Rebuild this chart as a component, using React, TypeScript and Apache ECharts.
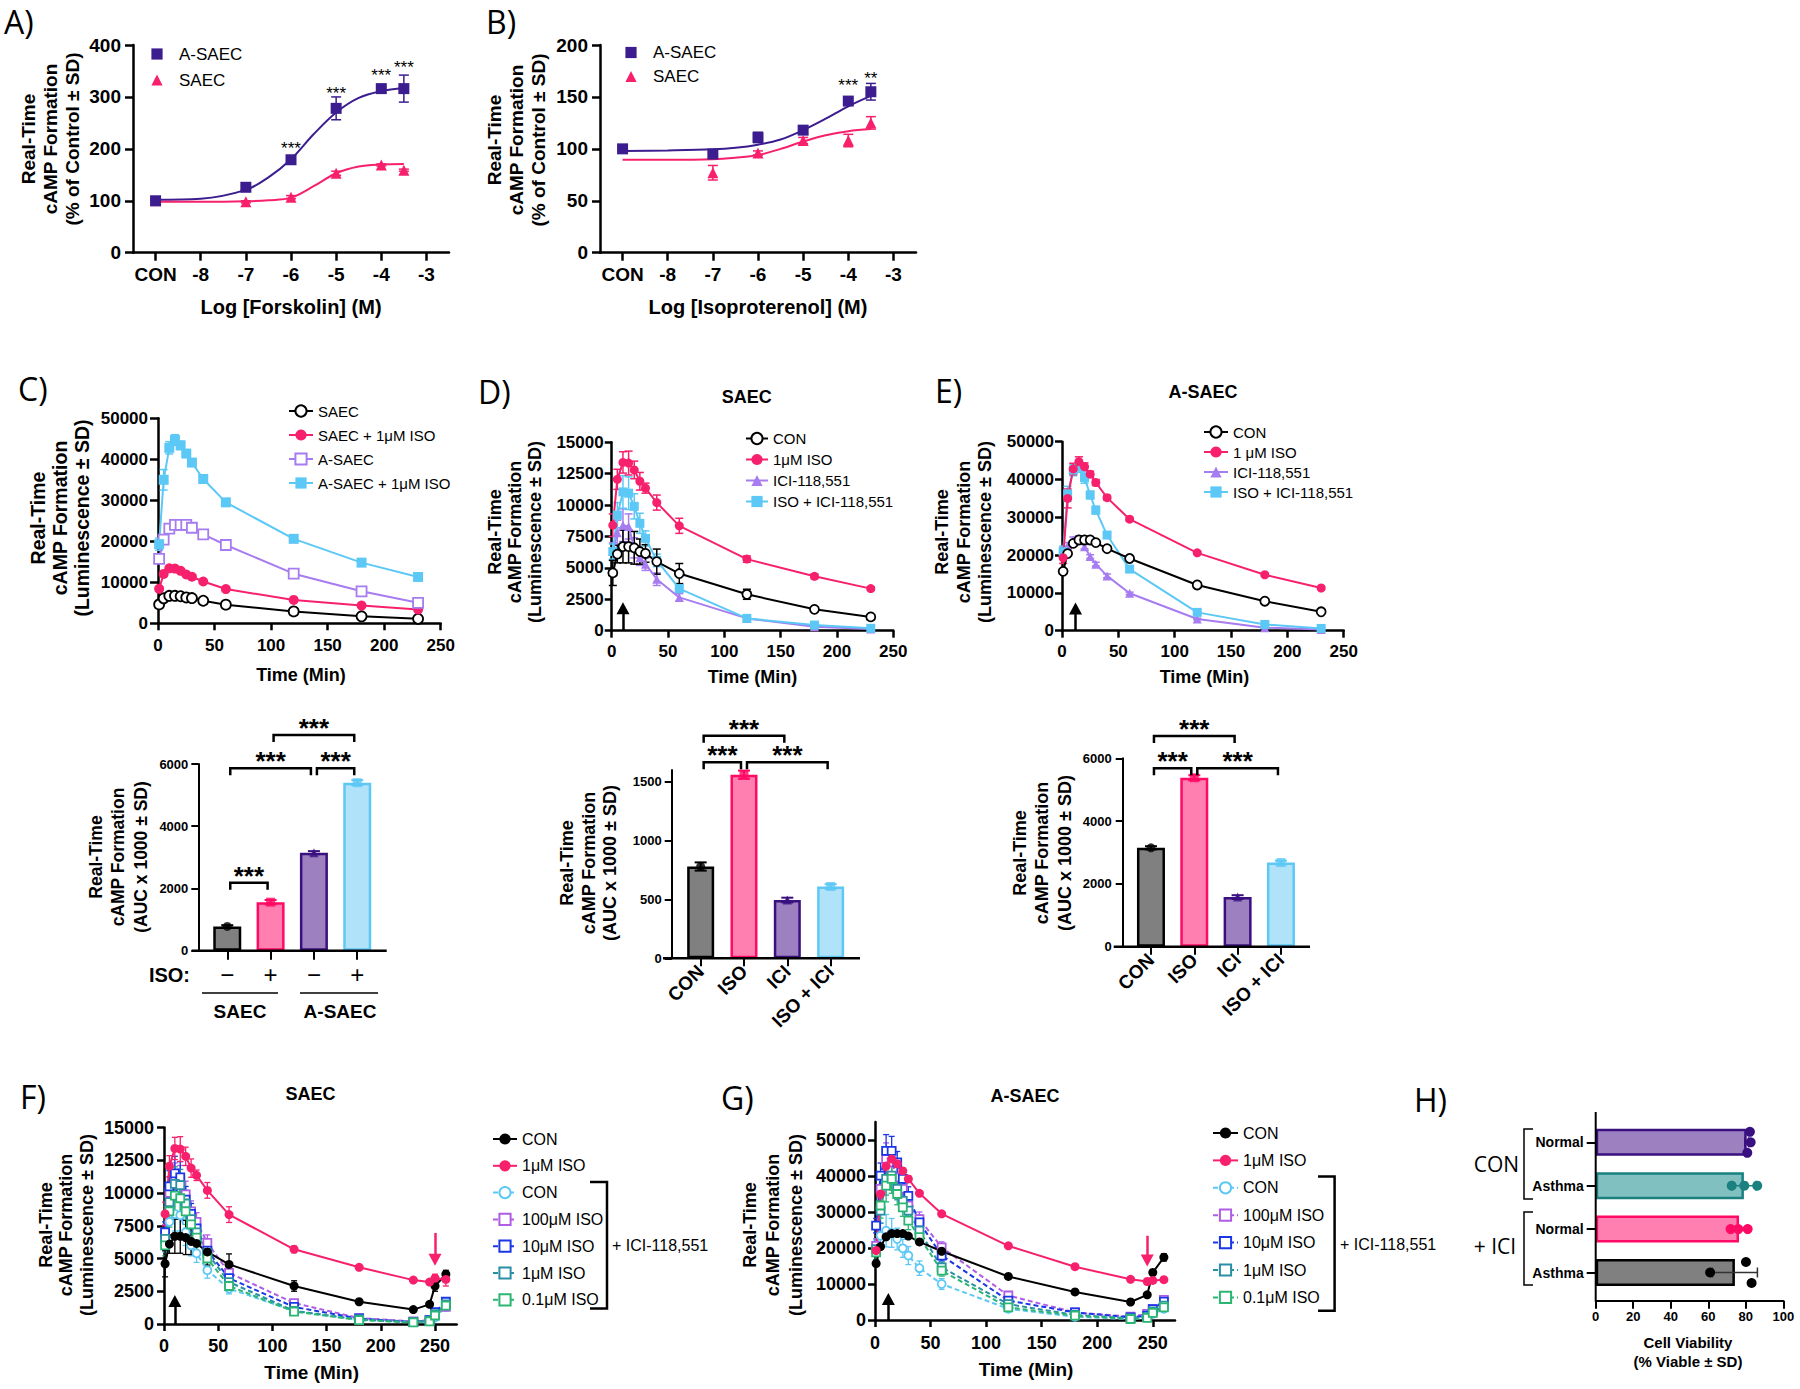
import React, { useEffect, useRef } from 'react';
import * as echarts from 'echarts';

const ARIAL = "'Liberation Sans', Arial, Helvetica, sans-serif";
const CAL = "'Open Sans', 'Noto Sans', sans-serif";

// ---------------- Panel A : Forskolin ----------------
const LOG_DOSE = [-9, -7, -6, -5, -4, -3.5];
const LOG_TICKS = [-9, -8, -7, -6, -5, -4, -3];
const FSK_ASAEC = [100, 126, 179, 278, 316, 316];
const FSK_ASAEC_SD = [2, 4, 5, 22, 3, 26];
const FSK_SAEC = [100, 98, 107, 153, 169, 159];
const FSK_SAEC_SD = [1, 2, 3, 4, 2, 2];
const FIT_DOSE = [-9, -8, -7, -6.5, -6, -5.5, -5, -4.5, -4, -3.5];
const FSK_ASAEC_FIT = [102, 104, 121, 145, 180, 228, 270, 298, 311, 317];
const FSK_SAEC_FIT = [98, 98, 99, 101, 106, 128, 153, 166, 170, 171];
const FSK_SIG: [number, number, string][] = [[-6, 207, '***'], [-5, 313, '***'], [-4, 347, '***'], [-3.5, 363, '***']];

// ---------------- Panel B : Isoproterenol ----------------
const ISO_ASAEC = [100, 95, 111, 118, 146, 155];
const ISO_ASAEC_SD = [1, 2, 5, 3, 3, 8];
const ISO_SAEC: (number | null)[] = [null, 77, 96, 108, 108, 125];
const ISO_SAEC_SD = [0, 7, 2, 3, 6, 6];
const ISO_ASAEC_FIT = [98, 98.5, 99.5, 101, 104, 109, 118, 129, 141, 151];
const ISO_SAEC_FIT = [89.5, 89.5, 90, 91.5, 94, 100, 107, 113, 117, 119];
const ISO_SIG: [number, number, string][] = [[-4, 164, '***'], [-3.5, 171, '**']];

// ---------------- Panels C, D, E : time courses ----------------
const TIME = [1, 5, 10, 15, 20, 25, 30, 40, 60, 120, 180, 230];
const SAEC_CON = [4600, 6100, 6700, 6700, 6600, 6300, 6150, 5500, 4550, 2900, 1700, 1100];
const SAEC_CON_SD = [1000, 700, 1300, 1300, 1300, 1000, 700, 1000, 800, 400, 150, 100];
const SAEC_ISO = [8400, 12050, 13400, 13350, 12800, 11900, 11350, 10200, 8350, 5700, 4330, 3350];
const SAEC_ISO_SD = [900, 800, 850, 950, 700, 700, 400, 600, 600, 250, 200, 150];
const SAEC_ICI = [6300, 7800, 8400, 8300, 6600, 5800, 5300, 4100, 2650, 980, 320, 130];
const SAEC_ICI_SD = [700, 1000, 1300, 1000, 800, 600, 500, 500, 300, 150, 80, 50];
const SAEC_ISO_ICI = [6300, 9200, 11050, 10950, 9900, 8550, 7350, 5600, 3350, 980, 450, 190];
const SAEC_ISO_ICI_SD = [600, 1000, 1300, 1300, 1000, 800, 600, 500, 300, 150, 80, 50];
const ASAEC_CON = [15700, 20400, 23100, 24000, 24000, 24000, 23300, 21700, 19100, 12100, 7800, 5000];
const ASAEC_CON_SD = [500, 500, 500, 500, 400, 400, 400, 400, 300, 300, 300, 300];
const ASAEC_ISO = [19300, 35000, 42800, 44700, 43400, 41400, 39200, 35200, 29500, 20600, 14800, 11300];
const ASAEC_ISO_SD = [1500, 2500, 1500, 1300, 1000, 800, 800, 600, 500, 400, 400, 400];
const ASAEC_ICI = [20500, 22500, 24000, 24300, 22200, 19600, 17600, 14500, 9900, 3100, 800, 350];
const ASAEC_ICI_SD = [1500, 800, 800, 800, 600, 500, 500, 500, 300, 200, 100, 100];
const ASAEC_ISO_ICI = [20900, 36200, 42500, 43400, 40500, 35900, 31900, 25300, 16300, 4850, 1650, 600];
const ASAEC_ISO_ICI_SD = [1500, 2000, 1500, 1500, 1500, 1000, 1000, 800, 700, 300, 200, 100];
const D_ARROW = [10, 0, 1780];
const E_ARROW = [12, 0, 5900];

// ---------------- AUC bars ----------------
const C_BAR_CATS = ['\u2212', '+', '\u2212', '+'];
const C_BAR = [780, 1560, 3150, 5400];
const C_BAR_SD = [40, 70, 50, 80];
const C_SIG = [[0, 1, 2180], [0, 2, 5860], [2, 3, 5860], [1, 3, 6930]];
const DE_BAR_CATS = ['CON', 'ISO', 'ICI', 'ISO + ICI'];
const D_BAR = [780, 1560, 495, 610];
const D_BAR_SD = [35, 35, 20, 20];
const D_SIG = [[0, 1, 1665], [1, 3, 1665], [0, 2, 1891]];
const E_BAR = [3150, 5380, 1580, 2680];
const E_BAR_SD = [50, 80, 60, 60];
const E_SIG = [[0, 1, 5682], [1, 3, 5682], [0, 2, 6710]];

// ---------------- Panels F, G ----------------
const TIME_LONG = [1, 5, 10, 15, 20, 25, 30, 40, 60, 120, 180, 230, 245, 250, 260];
const TIME_LONG_TICKS = [0, 50, 100, 150, 200, 250];
const F_CON = [4600, 6100, 6700, 6700, 6600, 6300, 6150, 5500, 4550, 2900, 1700, 1100, 1500, 2900, 3800];
const F_CON_SD = [1000, 700, 1300, 1300, 1300, 1000, 700, 1000, 800, 400, 150, 100, 200, 400, 300];
const F_ISO = [8400, 12050, 13400, 13350, 12800, 11900, 11350, 10200, 8350, 5700, 4330, 3350, 3200, 3500, 3400];
const F_ISO_SD = [900, 800, 850, 950, 700, 700, 400, 600, 600, 250, 200, 150, 200, 300, 500];
const F_ICI_CON = [6300, 7800, 8400, 8300, 7000, 6000, 5400, 4100, 2700, 1000, 330, 130, 200, 500, 1300];
const F_ICI_100 = [6800, 10000, 11000, 10900, 9900, 8600, 7800, 6200, 3900, 1600, 450, 200, 300, 800, 1300];
const F_ICI_10 = [7000, 10500, 11500, 11200, 9500, 8400, 7300, 5600, 3500, 1300, 420, 150, 300, 900, 1700];
const F_ICI_1 = [6500, 9300, 10700, 10600, 9200, 8000, 7000, 5400, 3200, 1000, 350, 140, 250, 750, 1500];
const F_ICI_01 = [6000, 8600, 9800, 9600, 8600, 7600, 6600, 5000, 2900, 950, 300, 120, 200, 650, 1400];
const F_ICI_SD = [800, 1200, 1300, 1200, 1000, 800, 700, 600, 400, 200, 100, 50, 80, 150, 200];
const F_ARROW_UP = [10, 0, 1760];
const F_ARROW_DOWN = [250, 6950, 4900];

const G_CON = [15700, 20400, 23100, 24000, 24000, 24000, 23300, 21700, 19100, 12100, 7800, 5000, 7000, 13200, 17400];
const G_CON_SD = [800, 700, 600, 600, 500, 500, 500, 500, 400, 300, 300, 300, 400, 600, 1000];
const G_ISO = [19300, 35000, 42800, 44700, 43400, 41400, 39200, 35200, 29500, 20600, 14800, 11300, 10700, 11000, 11200];
const G_ISO_SD = [1500, 2500, 1500, 1300, 1000, 800, 800, 600, 500, 400, 400, 400, 400, 400, 500];
const G_ICI_CON = [20200, 23400, 24800, 24200, 22500, 19900, 17900, 14400, 10000, 3100, 900, 280, 650, 1700, 3100];
const G_ICI_100 = [20600, 36400, 44700, 43800, 39600, 36400, 31800, 28000, 20200, 6800, 2100, 900, 1700, 3000, 5600];
const G_ICI_10 = [26200, 40100, 47000, 47000, 43800, 39200, 34500, 27100, 17900, 5400, 2100, 740, 1200, 3000, 5100];
const G_ICI_1 = [19700, 30400, 39200, 40100, 36400, 33100, 30400, 24800, 14600, 4400, 1400, 460, 800, 2400, 4000];
const G_ICI_01 = [18800, 31800, 37300, 39200, 35000, 31300, 27600, 23000, 13700, 3500, 1200, 280, 600, 2000, 3500];
const G_ICI_SD = [2000, 3500, 4500, 4000, 3000, 2500, 2500, 2000, 1500, 800, 400, 200, 300, 500, 800];
const G_Y_TICKS = [0, 10000, 20000, 30000, 40000, 50000];
const G_ARROW_UP = [12, 0, 5800];
const G_ARROW_DOWN = [245, 23400, 16500];

// ---------------- Panel H ----------------
const H_CATS = ['Normal', 'Asthma', 'Normal', 'Asthma'];
const H_BAR = [80.5, 79, 76.4, 74.2];
const H_SD = [1, 6.5, 4.5, 12];
const H_DOTS = [[82.2, 82.6, 80.8], [72.5, 79.2, 86.1], [71.9, 76, 81], [80.1, 61, 83.1]];

// ---------------- colours ----------------
const BLACK = '#000000';
const PINK = '#f7206c';
const DPURPLE = '#3b1d8f';
const LPURPLE = '#a77cf0';
const LBLUE = '#5cc8f5';
const C100 = '#b05de6';
const C10 = '#1a36e6';
const C1 = '#2a8fa6';
const C01 = '#2bb673';
const BAR_FILL = ['#808080', '#ff80b0', '#9d80bf', '#b0e2fa'];
const BAR_EDGE = ['#000000', '#ff0a64', '#3a1080', '#5ec8f5'];
const BAR_SYM = ['circle', 'rect', 'triangle', 'rect'];
const H_FILL = ['#9d80bf', '#80c0c0', '#ff80b0', '#808080'];
const H_EDGE = ['#3a1080', '#1a8080', '#ff0a64', '#000000'];

// ---------------- layout ----------------
const GRIDS = [
  { left: 133, top: 45, width: 316, height: 207.7 },
  { left: 600, top: 45, width: 316, height: 207.7 },
  { left: 158, top: 418.3, width: 282.7, height: 205 },
  { left: 611.7, top: 442.3, width: 281.6, height: 188.4 },
  { left: 1062, top: 441.7, width: 281.7, height: 189 },
  { left: 205.6, top: 764, width: 173.3, height: 186.7 },
  { left: 679, top: 770, width: 173.3, height: 188.3 },
  { left: 1129.3, top: 758.3, width: 173.3, height: 188.4 },
  { left: 164, top: 1127.5, width: 292.7, height: 196.5 },
  { left: 875, top: 1122, width: 300, height: 198 },
  { left: 1595.7, top: 1120.6, width: 187.6, height: 173.6 },
];

const plain = (v: number) => String(v);

function valAxis(gi: number, o: any) {
  const lw = o.lw ?? 2.5;
  return {
    type: 'value', gridIndex: gi, min: o.min, max: o.max, interval: o.interval, offset: o.offset ?? 0,
    axisLine: { show: true, onZero: false, lineStyle: { color: BLACK, width: lw } },
    axisTick: { show: true, length: o.tick ?? 7, lineStyle: { color: BLACK, width: lw }, customValues: o.custom },
    axisLabel: {
      show: true, margin: o.margin ?? 10, fontSize: o.fs, fontWeight: 'bold', color: BLACK, fontFamily: ARIAL,
      formatter: o.fmt ?? plain, customValues: o.custom,
    },
    splitLine: { show: false },
  };
}

function catAxis(gi: number, data: string[], o: any) {
  return {
    type: 'category', gridIndex: gi, data, boundaryGap: true, inverse: !!o.inverse,
    axisLine: { show: false },
    axisTick: { show: true, alignWithLabel: true, length: o.tick ?? 8, lineStyle: { color: BLACK, width: 2 } },
    axisLabel: {
      interval: 0, margin: o.margin ?? 10, fontSize: o.fs, fontWeight: o.fw ?? 'bold', color: BLACK,
      fontFamily: ARIAL, rotate: o.rotate ?? 0,
    },
    splitLine: { show: false },
  };
}

function errRender(cols: string[], cap: number, lw: number) {
  return (p: any, api: any) => {
    const x = api.value(0);
    const lo = api.coord([x, api.value(1)]);
    const hi = api.coord([x, api.value(2)]);
    const st = { stroke: cols[p.dataIndex % cols.length], lineWidth: lw, fill: 'none' };
    return {
      type: 'group', children: [
        { type: 'line', shape: { x1: lo[0], y1: lo[1], x2: hi[0], y2: hi[1] }, style: st },
        { type: 'line', shape: { x1: hi[0] - cap, y1: hi[1], x2: hi[0] + cap, y2: hi[1] }, style: st },
        { type: 'line', shape: { x1: lo[0] - cap, y1: lo[1], x2: lo[0] + cap, y2: lo[1] }, style: st },
      ],
    };
  };
}

function errSeries(gi: number, xs: number[], ys: (number | null)[], sds: number[], cols: string[], cap = 4, lw = 1.5, z = 2) {
  const data: any[] = [];
  xs.forEach((x, i) => { const y = ys[i]; if (y != null) data.push([x, y - sds[i], y + sds[i]]); });
  return {
    type: 'custom', xAxisIndex: gi, yAxisIndex: gi, clip: false, silent: true, z,
    encode: { x: 0, y: [1, 2] }, data, renderItem: errRender(cols, cap, lw),
  };
}

function arrow(a: number[], color: string) {
  return {
    silent: true, symbol: ['none', 'triangle'], symbolSize: [13, 12], animation: false,
    lineStyle: { color, width: 2.5, type: 'solid' }, label: { show: false },
    data: [[{ coord: [a[0], a[1]] }, { coord: [a[0], a[2]] }]],
  };
}

function lineSeries(name: string, gi: number, xs: number[], ys: number[], o: any) {
  return {
    type: 'line', name, xAxisIndex: gi, yAxisIndex: gi,
    data: xs.map((x, i) => [x, ys[i]]),
    symbol: o.symbol, symbolSize: o.size ?? 9, showSymbol: true, smooth: o.smooth ?? false,
    itemStyle: { color: o.open ? '#ffffff' : o.color, borderColor: o.color, borderWidth: o.open ? 1.8 : 0 },
    lineStyle: { color: o.color, width: o.lw ?? 2, type: o.dash ? [5, 3] : 'solid' },
    z: o.z ?? 3, silent: true, markLine: o.markLine,
  };
}

function fitSeries(name: string, gi: number, ys: number[], color: string) {
  return {
    type: 'line', name, xAxisIndex: gi, yAxisIndex: gi, data: FIT_DOSE.map((x, i) => [x, ys[i]]),
    showSymbol: false, symbol: 'none', smooth: 0.35, lineStyle: { color, width: 2 }, z: 2, silent: true,
  };
}

// points only (line series with invisible line so the legend shows just the centred marker)
function pointSeries(name: string, gi: number, xs: number[], ys: (number | null)[], symbol: string, color: string) {
  const data: any[] = [];
  xs.forEach((x, i) => { const y = ys[i]; if (y != null) data.push([x, y]); });
  return {
    type: 'line', name, xAxisIndex: gi, yAxisIndex: gi, data, symbol, symbolSize: 11, showSymbol: true,
    itemStyle: { color }, lineStyle: { width: 0, opacity: 0, color }, z: 4, silent: true,
  };
}

function labelSeries(gi: number, items: [number, number, string][], fs: number) {
  return {
    type: 'custom', xAxisIndex: gi, yAxisIndex: gi, clip: false, silent: true, z: 6,
    encode: { x: 0, y: 1 }, data: items.map((d) => [d[0], d[1]]),
    renderItem: (p: any, api: any) => {
      const pt = api.coord([api.value(0), api.value(1)]);
      return {
        type: 'text', x: pt[0], y: pt[1] + fs * 0.2,
        style: { text: items[p.dataIndex][2], fill: BLACK, fontSize: fs, fontFamily: ARIAL, align: 'center', verticalAlign: 'middle' },
      };
    },
  };
}

function bracketSeries(gi: number, items: number[][]) {
  return {
    type: 'custom', xAxisIndex: gi, yAxisIndex: gi, clip: false, silent: true, z: 6,
    encode: { x: [0, 1], y: 2 }, data: items,
    renderItem: (p: any, api: any) => {
      const a = api.coord([api.value(0), api.value(2)]);
      const b = api.coord([api.value(1), api.value(2)]);
      const x1 = a[0] + 3, x2 = b[0] - 3, y = a[1];
      const st = { stroke: BLACK, lineWidth: 2.5, fill: 'none' };
      return {
        type: 'group', children: [
          { type: 'polyline', shape: { points: [[x1, y + 7], [x1, y], [x2, y], [x2, y + 7]] }, style: st },
          {
            type: 'text', x: (x1 + x2) / 2, y: y - 7,
            style: { text: '***', fill: BLACK, fontSize: 26, fontWeight: 'bold', fontFamily: ARIAL, align: 'center', verticalAlign: 'middle' },
          },
        ],
      };
    },
  };
}

function barSeries(gi: number, vals: number[], fills: string[], edges: string[], width: number) {
  return {
    type: 'bar', xAxisIndex: gi, yAxisIndex: gi, barWidth: width, silent: true, z: 2,
    data: vals.map((v, i) => ({ value: v, itemStyle: { color: fills[i], borderColor: edges[i], borderWidth: 2.5 } })),
  };
}

function barDots(gi: number, vals: number[]) {
  return {
    type: 'scatter', xAxisIndex: gi, yAxisIndex: gi, silent: true, z: 5, symbolSize: 9,
    data: vals.map((v, i) => ({ value: [i, v], symbol: BAR_SYM[i], itemStyle: { color: BAR_EDGE[i] } })),
  };
}

const IDX = [0, 1, 2, 3];

function txt(text: string, x: number, y: number, o: any = {}) {
  return {
    type: 'text', x, y, rotation: o.rot ?? 0, silent: true, z: 10,
    style: {
      text, fill: BLACK, fontSize: o.fs ?? 18, fontWeight: o.fw ?? 'bold', fontFamily: o.ff ?? ARIAL,
      align: o.align ?? 'center', verticalAlign: 'middle', lineHeight: o.lh,
    },
  };
}
function pl(points: number[][], w = 2) {
  return { type: 'polyline', silent: true, z: 10, shape: { points }, style: { stroke: BLACK, lineWidth: w, fill: 'none' } };
}

const ROT = Math.PI / 2;
const Y_PCT = 'Real-Time\ncAMP Formation\n(% of Control \u00b1 SD)';
const Y_LUM = 'Real-Time\ncAMP Formation\n(Luminescence \u00b1 SD)';
const Y_AUC = 'Real-Time\ncAMP Formation\n(AUC x 1000 \u00b1 SD)';

function buildOption() {
  const fmtLog = (v: number) => (v === -9 ? 'CON' : String(v));
  const xAxis = [
    valAxis(0, { min: -9.5, max: -2.5, custom: LOG_TICKS, fmt: fmtLog, fs: 19, margin: 12, tick: 8 }),
    valAxis(1, { min: -9.5, max: -2.5, custom: LOG_TICKS, fmt: fmtLog, fs: 19, margin: 12, tick: 8 }),
    valAxis(2, { min: 0, max: 250, interval: 50, fs: 17, margin: 14, tick: 7 }),
    valAxis(3, { min: 0, max: 250, interval: 50, fs: 17, margin: 12, tick: 7 }),
    valAxis(4, { min: 0, max: 250, interval: 50, fs: 17, margin: 12, tick: 7 }),
    catAxis(5, C_BAR_CATS, { fs: 24, fw: 'normal', margin: 12, tick: 9 }),
    catAxis(6, DE_BAR_CATS, { fs: 19, rotate: 45, margin: 10, tick: 8 }),
    catAxis(7, DE_BAR_CATS, { fs: 19, rotate: 45, margin: 10, tick: 8 }),
    valAxis(8, { min: 0, max: 270, custom: TIME_LONG_TICKS, fs: 18, margin: 13, tick: 7 }),
    valAxis(9, { min: 0, max: 270, custom: TIME_LONG_TICKS, fs: 18, margin: 14, tick: 7 }),
    valAxis(10, { min: 0, max: 100, interval: 20, offset: 6.5, fs: 13, margin: 9, tick: 8, lw: 2 }),
  ];
  const yAxis = [
    valAxis(0, { min: 0, max: 400, interval: 100, fs: 19, margin: 12, tick: 8 }),
    valAxis(1, { min: 0, max: 200, interval: 50, fs: 19, margin: 12, tick: 8 }),
    valAxis(2, { min: 0, max: 50000, interval: 10000, fs: 17, margin: 10, tick: 8 }),
    valAxis(3, { min: 0, max: 15000, interval: 2500, fs: 17, margin: 8, tick: 7 }),
    valAxis(4, { min: 0, max: 50000, interval: 10000, fs: 17, margin: 8, tick: 7 }),
    valAxis(5, { min: 0, max: 6000, interval: 2000, fs: 13, margin: 10, tick: 7, lw: 2, offset: 7.3 }),
    valAxis(6, { min: 0, max: 1600, custom: [0, 500, 1000, 1500], fs: 13, margin: 10, tick: 7, lw: 2, offset: 7.3 }),
    valAxis(7, { min: 0, max: 6000, interval: 2000, fs: 13, margin: 11, tick: 7, lw: 2, offset: 6.6 }),
    valAxis(8, { min: 0, max: 15000, interval: 2500, fs: 18, margin: 10, tick: 7 }),
    valAxis(9, { min: 0, max: 55000, custom: G_Y_TICKS, fs: 18, margin: 9, tick: 7 }),
    catAxis(10, H_CATS, { inverse: true, fs: 14, margin: 12, tick: 9 }),
  ];

  const series: any[] = [];
  // A
  series.push(fitSeries('A|fitA', 0, FSK_ASAEC_FIT, DPURPLE), fitSeries('A|fitS', 0, FSK_SAEC_FIT, PINK));
  series.push(errSeries(0, LOG_DOSE, FSK_ASAEC, FSK_ASAEC_SD, [DPURPLE], 5), errSeries(0, LOG_DOSE, FSK_SAEC, FSK_SAEC_SD, [PINK], 5));
  series.push(pointSeries('A|SAEC', 0, LOG_DOSE, FSK_SAEC, 'triangle', PINK), pointSeries('A|A-SAEC', 0, LOG_DOSE, FSK_ASAEC, 'rect', DPURPLE));
  series.push(labelSeries(0, FSK_SIG, 17));
  // B
  series.push(fitSeries('B|fitA', 1, ISO_ASAEC_FIT, DPURPLE), fitSeries('B|fitS', 1, ISO_SAEC_FIT, PINK));
  series.push(errSeries(1, LOG_DOSE, ISO_ASAEC, ISO_ASAEC_SD, [DPURPLE], 5), errSeries(1, LOG_DOSE, ISO_SAEC, ISO_SAEC_SD, [PINK], 5));
  series.push(pointSeries('B|SAEC', 1, LOG_DOSE, ISO_SAEC, 'triangle', PINK), pointSeries('B|A-SAEC', 1, LOG_DOSE, ISO_ASAEC, 'rect', DPURPLE));
  series.push(labelSeries(1, ISO_SIG, 17));
  // C
  series.push(
    errSeries(2, TIME, ASAEC_ISO, ASAEC_ISO_SD, [LBLUE]),
    errSeries(2, TIME, ASAEC_CON, ASAEC_CON_SD, [LPURPLE]),
    lineSeries('C|SAEC', 2, TIME, SAEC_CON, { symbol: 'circle', color: BLACK, open: true, size: 10 }),
    lineSeries('C|SAEC + 1\u03bcM ISO', 2, TIME, SAEC_ISO, { symbol: 'circle', color: PINK, size: 10 }),
    lineSeries('C|A-SAEC', 2, TIME, ASAEC_CON, { symbol: 'rect', color: LPURPLE, open: true, size: 10 }),
    lineSeries('C|A-SAEC + 1\u03bcM ISO', 2, TIME, ASAEC_ISO, { symbol: 'rect', color: LBLUE, size: 10 }),
  );
  // D
  series.push(
    errSeries(3, TIME, SAEC_ICI, SAEC_ICI_SD, [LPURPLE]),
    errSeries(3, TIME, SAEC_ISO_ICI, SAEC_ISO_ICI_SD, [LBLUE]),
    errSeries(3, TIME, SAEC_CON, SAEC_CON_SD, [BLACK]),
    errSeries(3, TIME, SAEC_ISO, SAEC_ISO_SD, [PINK]),
    lineSeries('D|ICI-118,551', 3, TIME, SAEC_ICI, { symbol: 'triangle', color: LPURPLE }),
    lineSeries('D|ISO + ICI-118,551', 3, TIME, SAEC_ISO_ICI, { symbol: 'rect', color: LBLUE }),
    lineSeries('D|CON', 3, TIME, SAEC_CON, { symbol: 'circle', color: BLACK, open: true, markLine: arrow(D_ARROW, BLACK) }),
    lineSeries('D|1\u03bcM ISO', 3, TIME, SAEC_ISO, { symbol: 'circle', color: PINK }),
  );
  // E
  series.push(
    errSeries(4, TIME, ASAEC_ICI, ASAEC_ICI_SD, [LPURPLE]),
    errSeries(4, TIME, ASAEC_ISO_ICI, ASAEC_ISO_ICI_SD, [LBLUE]),
    errSeries(4, TIME, ASAEC_CON, ASAEC_CON_SD, [BLACK]),
    errSeries(4, TIME, ASAEC_ISO, ASAEC_ISO_SD, [PINK]),
    lineSeries('E|ICI-118,551', 4, TIME, ASAEC_ICI, { symbol: 'triangle', color: LPURPLE }),
    lineSeries('E|ISO + ICI-118,551', 4, TIME, ASAEC_ISO_ICI, { symbol: 'rect', color: LBLUE }),
    lineSeries('E|CON', 4, TIME, ASAEC_CON, { symbol: 'circle', color: BLACK, open: true, markLine: arrow(E_ARROW, BLACK) }),
    lineSeries('E|1 \u03bcM ISO', 4, TIME, ASAEC_ISO, { symbol: 'circle', color: PINK }),
  );
  // C/D/E bars
  const bars: [number, number[], number[], number[][]][] = [[5, C_BAR, C_BAR_SD, C_SIG], [6, D_BAR, D_BAR_SD, D_SIG], [7, E_BAR, E_BAR_SD, E_SIG]];
  bars.forEach(([gi, v, sd, sig]) => {
    series.push(barSeries(gi, v, BAR_FILL, BAR_EDGE, gi === 6 ? 27 : 28));
    series.push(errSeries(gi, IDX, v, sd, BAR_EDGE, 6, 2, 4));
    series.push(barDots(gi, v));
    series.push(bracketSeries(gi, sig));
  });
  // F
  const fIci: [string, number[], string, string][] = [
    ['F2|CON', F_ICI_CON, LBLUE, 'circle'],
    ['F2|100\u03bcM ISO', F_ICI_100, C100, 'rect'],
    ['F2|10\u03bcM ISO', F_ICI_10, C10, 'rect'],
    ['F2|1\u03bcM ISO', F_ICI_1, C1, 'rect'],
    ['F2|0.1\u03bcM ISO', F_ICI_01, C01, 'rect'],
  ];
  fIci.forEach(([, d, c]) => series.push(errSeries(8, TIME_LONG, d, F_ICI_SD, [c], 3, 1.3)));
  series.push(errSeries(8, TIME_LONG, F_CON, F_CON_SD, [BLACK], 3, 1.3), errSeries(8, TIME_LONG, F_ISO, F_ISO_SD, [PINK], 3, 1.3));
  fIci.forEach(([n, d, c, s]) => series.push(lineSeries(n, 8, TIME_LONG, d, { symbol: s, color: c, open: true, dash: true, size: 8 })));
  series.push(
    lineSeries('F|CON', 8, TIME_LONG, F_CON, { symbol: 'circle', color: BLACK, size: 9, markLine: arrow(F_ARROW_UP, BLACK) }),
    lineSeries('F|1\u03bcM ISO', 8, TIME_LONG, F_ISO, { symbol: 'circle', color: PINK, size: 9, markLine: arrow(F_ARROW_DOWN, PINK) }),
  );
  // G
  const gIci: [string, number[], string, string][] = [
    ['G2|CON', G_ICI_CON, LBLUE, 'circle'],
    ['G2|100\u03bcM ISO', G_ICI_100, C100, 'rect'],
    ['G2|10\u03bcM ISO', G_ICI_10, C10, 'rect'],
    ['G2|1\u03bcM ISO', G_ICI_1, C1, 'rect'],
    ['G2|0.1\u03bcM ISO', G_ICI_01, C01, 'rect'],
  ];
  gIci.forEach(([, d, c]) => series.push(errSeries(9, TIME_LONG, d, G_ICI_SD, [c], 3, 1.3)));
  series.push(errSeries(9, TIME_LONG, G_CON, G_CON_SD, [BLACK], 3, 1.3), errSeries(9, TIME_LONG, G_ISO, G_ISO_SD, [PINK], 3, 1.3));
  gIci.forEach(([n, d, c, s]) => series.push(lineSeries(n, 9, TIME_LONG, d, { symbol: s, color: c, open: true, dash: true, size: 8 })));
  series.push(
    lineSeries('G|CON', 9, TIME_LONG, G_CON, { symbol: 'circle', color: BLACK, size: 9, markLine: arrow(G_ARROW_UP, BLACK) }),
    lineSeries('G|1\u03bcM ISO', 9, TIME_LONG, G_ISO, { symbol: 'circle', color: PINK, size: 9, markLine: arrow(G_ARROW_DOWN, PINK) }),
  );
  // H
  series.push({
    type: 'bar', xAxisIndex: 10, yAxisIndex: 10, barWidth: 27, silent: true, z: 2,
    data: H_BAR.map((v, i) => ({ value: v, itemStyle: { color: H_FILL[i], borderColor: H_EDGE[i], borderWidth: 2.5 } })),
  });
  series.push({
    type: 'custom', xAxisIndex: 10, yAxisIndex: 10, silent: true, z: 4, clip: false,
    encode: { x: [0, 1], y: 2 }, data: H_BAR.map((v, i) => [v - H_SD[i], v + H_SD[i], i]),
    renderItem: (p: any, api: any) => {
      const a = api.coord([api.value(0), api.value(2)]);
      const b = api.coord([api.value(1), api.value(2)]);
      const st = { stroke: p.dataIndex === 3 ? '#333' : H_EDGE[p.dataIndex], lineWidth: 1.5, fill: 'none' };
      return {
        type: 'group', children: [
          { type: 'line', shape: { x1: a[0], y1: a[1], x2: b[0], y2: b[1] }, style: st },
          { type: 'line', shape: { x1: a[0], y1: a[1] - 5, x2: a[0], y2: a[1] + 5 }, style: st },
          { type: 'line', shape: { x1: b[0], y1: b[1] - 5, x2: b[0], y2: b[1] + 5 }, style: st },
        ],
      };
    },
  });
  const hDots: number[][] = [];
  H_DOTS.forEach((arr, c) => arr.forEach((v, j) => hDots.push([v, c, j])));
  series.push({
    type: 'custom', xAxisIndex: 10, yAxisIndex: 10, silent: true, z: 5, clip: false,
    encode: { x: 0, y: 1 }, data: hDots,
    renderItem: (p: any, api: any) => {
      const c = api.value(1), j = api.value(2);
      const pt = api.coord([api.value(0), c]);
      const spread = c === 0 || c === 3 ? (j - 1) * 10.5 : 0;
      return { type: 'circle', shape: { cx: pt[0], cy: pt[1] + spread, r: 5 }, style: { fill: H_EDGE[c] } };
    },
  });

  const fmt = (n: string) => n.split('|')[1];
  const lg = (data: string[], left: number, top: number, iw: number, ih: number, gap: number, fs: number, extra: any = {}) => ({
    data, left, top, orient: 'vertical', itemWidth: iw, itemHeight: ih, itemGap: gap, selectedMode: false,
    formatter: fmt, textStyle: { fontSize: fs, fontFamily: ARIAL, color: BLACK }, padding: 0, ...extra,
  });
  const noLine = { lineStyle: { width: 0, opacity: 0 } };
  const legend = [
    lg(['A|A-SAEC', 'A|SAEC'], 140, 45.5, 34, 14, 9, 17, noLine),
    lg(['B|A-SAEC', 'B|SAEC'], 614, 44, 34, 14, 7, 17, noLine),
    lg(['C|SAEC', 'C|SAEC + 1\u03bcM ISO', 'C|A-SAEC', 'C|A-SAEC + 1\u03bcM ISO'], 288, 403.5, 24, 14, 9, 15),
    lg(['D|CON', 'D|1\u03bcM ISO', 'D|ICI-118,551', 'D|ISO + ICI-118,551'], 745, 431, 22, 14, 6, 15),
    lg(['E|CON', 'E|1 \u03bcM ISO', 'E|ICI-118,551', 'E|ISO + ICI-118,551'], 1203, 424.5, 24, 14, 5, 15),
    lg(['F|CON', 'F|1\u03bcM ISO', 'F2|CON', 'F2|100\u03bcM ISO', 'F2|10\u03bcM ISO', 'F2|1\u03bcM ISO', 'F2|0.1\u03bcM ISO'], 492, 1131, 24, 14, 10.8, 16),
    lg(['G|CON', 'G|1\u03bcM ISO', 'G2|CON', 'G2|100\u03bcM ISO', 'G2|10\u03bcM ISO', 'G2|1\u03bcM ISO', 'G2|0.1\u03bcM ISO'], 1212, 1125, 25, 14, 11.4, 16),
  ];

  const P = { ff: CAL, fw: 'normal', fs: 32, align: 'left' };
  const graphic = [
    txt('A)', 4, 21, P), txt('B)', 486, 21, P), txt('C)', 18, 388, P), txt('D)', 478, 391, P),
    txt('E)', 935, 390, P), txt('F)', 20, 1096, P), txt('G)', 721, 1097, P), txt('H)', 1414, 1099, P),
    txt('SAEC', 746.7, 396.7), txt('A-SAEC', 1203, 391.7), txt('SAEC', 310.5, 1094), txt('A-SAEC', 1025, 1096),
    txt('Log [Forskolin] (M)', 291, 307, { fs: 20 }),
    txt('Log [Isoproterenol] (M)', 758, 307, { fs: 20 }),
    txt('Time (Min)', 301, 675), txt('Time (Min)', 752.5, 677), txt('Time (Min)', 1204.5, 677),
    txt('Time (Min)', 311.7, 1372, { fs: 19 }), txt('Time (Min)', 1026, 1369, { fs: 19 }),
    txt(Y_PCT, 50, 139, { rot: ROT, fs: 19, lh: 22 }),
    txt(Y_PCT, 516.7, 140, { rot: ROT, fs: 19, lh: 22 }),
    txt(Y_LUM, 60, 518, { rot: ROT, fs: 19.5, lh: 22 }),
    txt(Y_LUM, 515, 532, { rot: ROT, fs: 18, lh: 20 }),
    txt(Y_LUM, 963.7, 532, { rot: ROT, fs: 18, lh: 21.5 }),
    txt(Y_AUC, 118, 857, { rot: ROT, fs: 17.5, lh: 22.5 }),
    txt(Y_AUC, 588.5, 863, { rot: ROT, fs: 18, lh: 21.5 }),
    txt(Y_AUC, 1042, 853, { rot: ROT, fs: 18, lh: 22.5 }),
    txt(Y_LUM, 66, 1225, { rot: ROT, fs: 18, lh: 20.5 }),
    txt(Y_LUM, 773, 1225, { rot: ROT, fs: 18, lh: 23 }),
    // C bottom extras
    txt('ISO:', 190, 975, { fs: 20, align: 'right' }),
    pl([[202, 993], [278, 993]], 1.5), pl([[300, 993], [378, 993]], 1.5),
    txt('SAEC', 240, 1011, { fs: 19 }), txt('A-SAEC', 340, 1011, { fs: 19 }),
    // bar chart x axes
    pl([[191.7, 950.7], [386.7, 950.7]], 2.5), pl([[663, 958.3], [860, 958.3]], 2.5), pl([[1113.7, 946.7], [1310, 946.7]], 2.5),
    // F / G legend brackets
    pl([[590, 1182], [607, 1182], [607, 1308.5], [590, 1308.5]], 2.5),
    txt('+ ICI-118,551', 612, 1245, { fs: 16, fw: 'normal', align: 'left' }),
    pl([[1318, 1176.5], [1334.6, 1176.5], [1334.6, 1310.7], [1318, 1310.7]], 2.5),
    txt('+ ICI-118,551', 1340, 1244, { fs: 16, fw: 'normal', align: 'left' }),
    // H extras
    pl([[1595.7, 1112], [1595.7, 1300.7]], 2),
    pl([[1533, 1129], [1524, 1129], [1524, 1199], [1533, 1199]], 1.5),
    pl([[1533, 1212], [1524, 1212], [1524, 1285], [1533, 1285]], 1.5),
    txt('CON', 1496.5, 1164, { ff: CAL, fw: 'normal', fs: 21 }),
    txt('+ ICI', 1495, 1246, { ff: CAL, fw: 'normal', fs: 21 }),
    txt('Cell Viability', 1688, 1342, { fs: 15 }),
    txt('(% Viable \u00b1 SD)', 1688, 1361, { fs: 15 }),
  ];

  return {
    animation: false,
    backgroundColor: '#ffffff',
    textStyle: { fontFamily: ARIAL },
    grid: GRIDS.map((g) => ({ ...g, containLabel: false })),
    xAxis, yAxis, series, legend, graphic,
  };
}

export default function App() {
  const ref = useRef<HTMLDivElement>(null);
  useEffect(() => {
    const chart = echarts.init(ref.current as HTMLDivElement, null, { renderer: 'svg' });
    chart.setOption(buildOption() as any);
    return () => chart.dispose();
  }, []);
  return <div ref={ref} style={{ position: 'absolute', left: 0, top: 0, width: 1800, height: 1389, background: '#fff' }} />;
}
